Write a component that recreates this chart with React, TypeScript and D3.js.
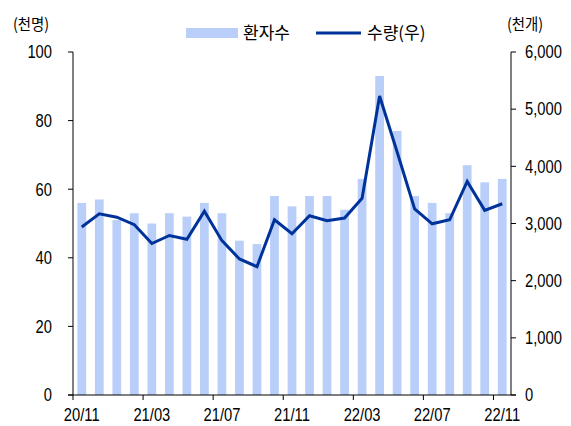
import React from "react";
import * as d3 from "d3";

const months = [
  "20/11","20/12","21/01","21/02","21/03","21/04","21/05","21/06","21/07","21/08","21/09","21/10",
  "21/11","21/12","22/01","22/02","22/03","22/04","22/05","22/06","22/07","22/08","22/09","22/10","22/11",
];
const patients = [56,57,51,53,50,53,52,56,53,45,44,58,55,58,58,54,63,93,77,58,56,53,67,62,63];
const quantity = [2940,3170,3110,2980,2650,2790,2725,3215,2700,2380,2245,3065,2820,3135,3050,3095,3440,5230,4250,3255,2995,3065,3735,3230,3345];
const leftTicks = [0,20,40,60,80,100];
const rightTicks = [0,1000,2000,3000,4000,5000,6000];
const xTickLabels = ["20/11","21/03","21/07","21/11","22/03","22/07","22/11"];

const FONT = "'Liberation Sans', Arial, sans-serif";
const KFONT = "'Noto Sans CJK KR', 'Liberation Sans', sans-serif";
const BAR = "#B9CFFA";
const LINE = "#003399";

type TProps = { x: number; y: number; anchor?: "start" | "middle" | "end"; size: number; sx: number; font: string; dy?: string; children: React.ReactNode };
function T({ x, y, anchor = "start", size, sx, font, dy, children }: TProps) {
  return (
    <text transform={`translate(${x},${y}) scale(${sx},1)`} dy={dy} textAnchor={anchor} fontFamily={font} fontSize={size} fill="#000">
      {children}
    </text>
  );
}

export default function App() {
  const W = 571, H = 426;
  const x0 = 73, x1 = 511, yB = 395, yT = 52;
  const x = d3.scaleBand<string>().domain(months).range([x0, x1]).padding(0);
  const yL = d3.scaleLinear().domain([0, 100]).range([yB, yT]);
  const yR = d3.scaleLinear().domain([0, 6000]).range([yB, yT]);
  const bw = x.bandwidth() * 0.5;
  const cx = (m: string) => (x(m) as number) + x.bandwidth() / 2;
  const line = d3.line<number>().x((_, i) => cx(months[i])).y((d) => yR(d));
  const fmt = d3.format(",");
  const NS = 0.82;

  return (
    <svg width={W} height={H} style={{ position: "absolute", left: 0, top: 0, background: "#fff" }}>
      {patients.map((v, i) => (
        <rect key={i} x={cx(months[i]) - bw / 2} y={yL(v)} width={bw} height={yB - yL(v)} fill={BAR} />
      ))}
      <path d={line(quantity) || ""} fill="none" stroke={LINE} strokeWidth={3} strokeLinejoin="miter" />
      {/* axes */}
      <line x1={x0} x2={x0} y1={yT} y2={yB} stroke="#000" strokeWidth={1} />
      <line x1={x1} x2={x1} y1={yT} y2={yB} stroke="#000" strokeWidth={1} />
      <line x1={x0 - 5} x2={x1 + 5} y1={yB} y2={yB} stroke="#000" strokeWidth={1} />
      {leftTicks.map((t) => (
        <g key={"l" + t}>
          <line x1={x0 - 5} x2={x0} y1={yL(t)} y2={yL(t)} stroke="#000" />
          <T x={52} y={yL(t)} dy="0.35em" anchor="end" size={18} sx={NS} font={FONT}>{t}</T>
        </g>
      ))}
      {rightTicks.map((t) => (
        <g key={"r" + t}>
          <line x1={x1} x2={x1 + 5} y1={yR(t)} y2={yR(t)} stroke="#000" />
          <T x={525} y={yR(t)} dy="0.35em" anchor="start" size={18} sx={NS} font={FONT}>{fmt(t)}</T>
        </g>
      ))}
      {months.map((m, i) => (i % 4 === 0 ? (
        <g key={"x" + m}>
          <line x1={x(m) as number} x2={x(m) as number} y1={yB} y2={yB + 5} stroke="#000" />
          <T x={cx(m)} y={421} anchor="middle" size={18} sx={NS} font={FONT}>{xTickLabels[i / 4]}</T>
        </g>
      ) : null))}
      {/* unit labels */}
      <T x={31} y={24} dy="0.35em" anchor="middle" size={16} sx={0.9} font={KFONT}>(천명)</T>
      <T x={525} y={24} dy="0.35em" anchor="middle" size={16} sx={0.9} font={KFONT}>(천개)</T>
      {/* legend */}
      <rect x={186} y={28} width={52} height={10} fill={BAR} />
      <T x={243} y={33} dy="0.35em" size={17} sx={1} font={KFONT}>환자수</T>
      <line x1={316} x2={361} y1={33} y2={33} stroke={LINE} strokeWidth={3} />
      <T x={367} y={33} dy="0.35em" size={17} sx={1} font={KFONT}>수량(우)</T>
    </svg>
  );
}
